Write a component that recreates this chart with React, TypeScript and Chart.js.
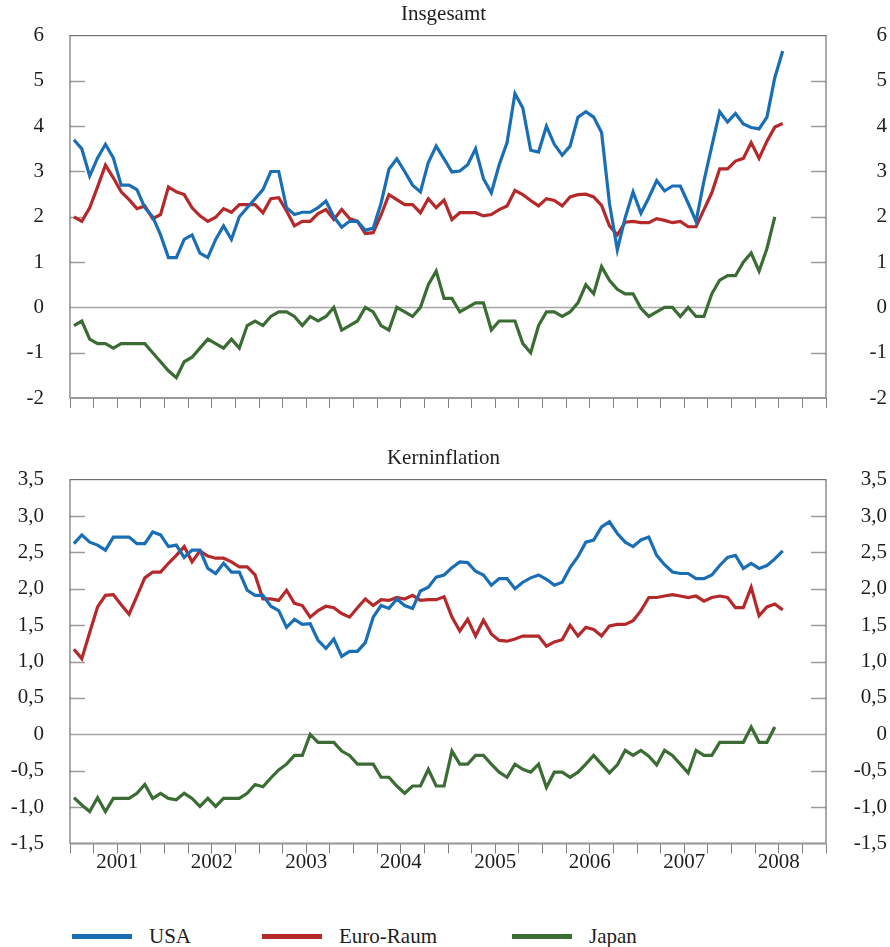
import React, { useEffect, useRef } from 'react';
import { Chart, registerables } from 'chart.js';

Chart.register(...registerables);

const FONT = '"Liberation Serif", "Times New Roman", serif';
const FONT_SIZE = 21;

const years = ['2001', '2002', '2003', '2004', '2005', '2006', '2007', '2008'];
const seriesNames = ['USA', 'Euro-Raum', 'Japan'];
const seriesColors = ['#1a6eb5', '#b5292a', '#3a6c33'];

const topTitle = 'Insgesamt';
const bottomTitle = 'Kerninflation';
const topTickValues = [-2, -1, 0, 1, 2, 3, 4, 5, 6];
const bottomTickValues = [-1.5, -1, -0.5, 0, 0.5, 1, 1.5, 2, 2.5, 3, 3.5];

// Monthly, Jan 2001 onwards
const usTotal = [
  3.7, 3.5, 2.9, 3.3, 3.6, 3.3, 2.7, 2.7, 2.6, 2.2, 2.0, 1.6,
  1.1, 1.1, 1.5, 1.6, 1.2, 1.1, 1.5, 1.8, 1.5, 2.0, 2.2, 2.4,
  2.6, 3.0, 3.0, 2.2, 2.05, 2.1, 2.1, 2.2, 2.35, 2.0, 1.77, 1.9,
  1.9, 1.7, 1.75, 2.3, 3.05, 3.28, 3.0, 2.7, 2.55, 3.2, 3.56, 3.28,
  2.99, 3.01, 3.15, 3.5, 2.84, 2.53, 3.15, 3.64, 4.72, 4.4, 3.47, 3.43,
  4.0, 3.6, 3.36, 3.56, 4.2, 4.32, 4.2, 3.86, 2.3, 1.27, 1.98, 2.55,
  2.08, 2.42, 2.8, 2.57, 2.68, 2.68, 2.3, 1.9, 2.79, 3.56, 4.32, 4.09,
  4.28, 4.05, 3.97, 3.94, 4.2, 5.07, 5.66,
];
const euroTotal = [
  2.0, 1.9, 2.2, 2.66, 3.14, 2.86, 2.55, 2.38, 2.18, 2.24, 1.96, 2.05,
  2.66, 2.55, 2.49, 2.2, 2.02, 1.9, 1.99, 2.18, 2.1, 2.27, 2.27, 2.27,
  2.09, 2.4, 2.42, 2.13, 1.8, 1.9, 1.9, 2.07, 2.16, 1.94, 2.16, 1.96,
  1.9, 1.63, 1.65, 2.04, 2.49, 2.38, 2.27, 2.27, 2.09, 2.4, 2.2, 2.37,
  1.94, 2.09, 2.09, 2.09, 2.02, 2.05, 2.16, 2.24, 2.58, 2.49, 2.36, 2.24,
  2.4, 2.36, 2.24, 2.44, 2.49, 2.5, 2.44, 2.25, 1.8, 1.6, 1.88, 1.9,
  1.87, 1.87, 1.96, 1.92, 1.87, 1.9, 1.78, 1.78, 2.16, 2.53, 3.06, 3.06,
  3.23, 3.29, 3.64, 3.29, 3.67, 3.98, 4.06,
];
const japanTotal = [
  -0.4, -0.3, -0.7, -0.8, -0.8, -0.9, -0.8, -0.8, -0.8, -0.8, -1.0, -1.2,
  -1.4, -1.55, -1.2, -1.1, -0.9, -0.7, -0.8, -0.9, -0.7, -0.9, -0.4, -0.3,
  -0.4, -0.2, -0.1, -0.1, -0.2, -0.4, -0.2, -0.3, -0.2, 0.0, -0.5, -0.4,
  -0.3, 0.0, -0.1, -0.4, -0.5, 0.0, -0.1, -0.2, 0.0, 0.5, 0.8, 0.2,
  0.2, -0.1, 0.0, 0.1, 0.1, -0.5, -0.3, -0.3, -0.3, -0.8, -1.0, -0.4,
  -0.1, -0.1, -0.2, -0.1, 0.1, 0.5, 0.3, 0.9, 0.6, 0.4, 0.3, 0.3,
  -0.02, -0.2, -0.1, 0.0, 0.0, -0.2, 0.0, -0.2, -0.2, 0.3, 0.6, 0.7,
  0.7, 1.0, 1.2, 0.8, 1.3, 2.0,
];

const usCore = [
  2.62, 2.74, 2.64, 2.6, 2.53, 2.71, 2.71, 2.71, 2.62, 2.62, 2.78, 2.74,
  2.58, 2.6, 2.43, 2.53, 2.53, 2.28, 2.21, 2.35, 2.23, 2.23, 1.98, 1.91,
  1.91, 1.76, 1.7, 1.47, 1.58, 1.51, 1.52, 1.29, 1.18, 1.31, 1.07, 1.14,
  1.14, 1.26, 1.61, 1.77, 1.73, 1.86, 1.77, 1.73, 1.97, 2.02, 2.16, 2.19,
  2.29, 2.37, 2.36, 2.24, 2.19, 2.05, 2.14, 2.14, 2.0, 2.09, 2.15, 2.19,
  2.13, 2.05, 2.09, 2.29, 2.44, 2.64, 2.67, 2.85, 2.92, 2.76, 2.64, 2.58,
  2.67, 2.71, 2.46, 2.33, 2.23, 2.21, 2.21, 2.14, 2.14, 2.19, 2.32, 2.43,
  2.46, 2.28, 2.35, 2.28, 2.32, 2.41, 2.52,
];
const euroCore = [
  1.17, 1.04, 1.4, 1.75, 1.91, 1.92, 1.78, 1.65, 1.9, 2.15, 2.23, 2.23,
  2.35, 2.46, 2.58, 2.37, 2.52, 2.45, 2.42, 2.42, 2.37, 2.3, 2.3, 2.19,
  1.86, 1.86, 1.84, 1.98, 1.8, 1.77, 1.61, 1.7, 1.76, 1.74, 1.66, 1.61,
  1.74, 1.86, 1.77, 1.85, 1.84, 1.88, 1.86, 1.91, 1.84, 1.85, 1.85, 1.89,
  1.61, 1.42, 1.58, 1.35, 1.57, 1.38, 1.29, 1.28, 1.31, 1.35, 1.35, 1.35,
  1.21, 1.27, 1.3, 1.5, 1.35, 1.47, 1.44, 1.35, 1.49, 1.51, 1.51, 1.56,
  1.7, 1.88, 1.88, 1.9, 1.92, 1.9, 1.88, 1.9, 1.83, 1.88, 1.9, 1.88,
  1.74, 1.74, 2.02, 1.63, 1.75, 1.79, 1.71,
];
const japanCore = [
  -0.87, -0.97, -1.06, -0.87, -1.06, -0.88, -0.88, -0.88, -0.81, -0.69, -0.88, -0.81,
  -0.88, -0.9, -0.81, -0.88, -0.99, -0.88, -0.99, -0.88, -0.88, -0.88, -0.81, -0.69,
  -0.72, -0.6, -0.49, -0.41, -0.29, -0.29, 0.0, -0.11, -0.11, -0.11, -0.23, -0.29,
  -0.41, -0.41, -0.41, -0.59, -0.59, -0.71, -0.81, -0.71, -0.71, -0.48, -0.71, -0.71,
  -0.23, -0.41, -0.41, -0.29, -0.29, -0.41, -0.52, -0.59, -0.41, -0.48, -0.52, -0.41,
  -0.73, -0.52, -0.52, -0.59, -0.52, -0.41, -0.29, -0.41, -0.53, -0.42, -0.22, -0.29,
  -0.22, -0.3, -0.42, -0.22, -0.29, -0.41, -0.53, -0.22, -0.29, -0.29, -0.11, -0.11,
  -0.11, -0.11, 0.1, -0.11, -0.11, 0.1,
];

const MONTHS_ON_AXIS = years.length * 12;

const framePlugin = {
  id: 'frame',
  beforeDatasetsDraw(chart: any) {
    const { ctx, chartArea: a, scales } = chart;
    const y = scales.y;
    ctx.save();
    ctx.strokeStyle = '#9c9c9c';
    ctx.lineWidth = 1.5;
    y.ticks.forEach((t: any) => {
      if (t.value === y.min || t.value === y.max || t.value === 0) return;
      const py = Math.round(y.getPixelForValue(t.value)) + 0.5;
      ctx.beginPath();
      ctx.moveTo(a.left, py);
      ctx.lineTo(a.left + 15, py);
      ctx.moveTo(a.right - 15, py);
      ctx.lineTo(a.right, py);
      ctx.stroke();
    });
    const z = Math.round(y.getPixelForValue(0)) + 0.5;
    ctx.strokeStyle = '#a6a6a6';
    ctx.lineWidth = 1.6;
    ctx.beginPath();
    ctx.moveTo(a.left, z);
    ctx.lineTo(a.right, z);
    ctx.stroke();
    ctx.strokeStyle = '#707070';
    ctx.lineWidth = 1.2;
    ctx.strokeRect(a.left, a.top, a.right - a.left, a.bottom - a.top);
    ctx.strokeStyle = '#999999';
    ctx.lineWidth = 1.8;
    ctx.beginPath();
    ctx.moveTo(a.left, a.bottom);
    ctx.lineTo(a.right, a.bottom);
    ctx.stroke();
    ctx.restore();
  },
};

function fmtBottom(v: number) {
  if (v === 0) return '0';
  return v.toFixed(1).replace('.', ',');
}

type PanelProps = {
  title: string;
  series: number[][];
  tickValues: number[];
  showYears: boolean;
  height: number;
  titleTop: number;
  padBottom: number;
  fmt: (v: number) => string;
};

function Panel({ title, series, tickValues, showYears, height, titleTop, padBottom, fmt }: PanelProps) {
  const ref = useRef<HTMLCanvasElement>(null);
  useEffect(() => {
    if (!ref.current) return;
    const yMin = tickValues[0];
    const yMax = tickValues[tickValues.length - 1];
    const yTicks = (s: any) => {
      s.ticks = tickValues.map((v) => ({ value: v }));
    };
    const tickFont = { family: FONT, size: FONT_SIZE };
    const chart = new Chart(ref.current, {
      type: 'line',
      data: {
        datasets: series.map((arr, k) => ({
          label: seriesNames[k],
          data: arr.map((v, i) => ({ x: i + 0.5, y: v })),
          borderColor: seriesColors[k],
          backgroundColor: seriesColors[k],
          borderWidth: 3.2,
          pointRadius: 0,
          fill: false,
          tension: 0,
          yAxisID: 'y',
        })),
      },
      options: {
        responsive: false,
        animation: false,
        devicePixelRatio: 1,
        layout: { padding: { top: 0, right: 3, bottom: padBottom, left: 0 } },
        plugins: {
          legend: { display: false },
          tooltip: { enabled: false },
          title: {
            display: true,
            text: title,
            color: '#1e1e1e',
            font: { family: FONT, size: FONT_SIZE, weight: 'normal' as any },
            padding: { top: titleTop, bottom: 9 },
          },
        },
        scales: {
          x: {
            type: 'linear',
            min: 0,
            max: MONTHS_ON_AXIS,
            afterBuildTicks: (s: any) => {
              const t = [];
              for (let m = 0; m <= MONTHS_ON_AXIS; m += 3) t.push({ value: m });
              s.ticks = t;
            },
            ticks: {
              display: showYears,
              autoSkip: false,
              maxRotation: 0,
              minRotation: 0,
              padding: -3.8,
              color: '#1e1e1e',
              font: tickFont,
              callback: (v: any) => {
                const idx = (Number(v) - 6) / 12;
                return Number.isInteger(idx) && years[idx] ? years[idx] : '';
              },
            },
            grid: { drawOnChartArea: false, drawTicks: true, tickLength: 10, color: '#808080', lineWidth: 1 },
            border: { display: false },
          },
          y: {
            position: 'left',
            min: yMin,
            max: yMax,
            afterBuildTicks: yTicks,
            afterFit: (s: any) => {
              s.width = 70;
            },
            ticks: { padding: 0, color: '#1e1e1e', font: tickFont, callback: (v: any) => fmt(Number(v)) },
            grid: { display: false, drawTicks: true, tickLength: 26 },
            border: { display: false },
          },
          y2: {
            position: 'right',
            min: yMin,
            max: yMax,
            afterBuildTicks: yTicks,
            afterFit: (s: any) => {
              s.width = 61;
            },
            ticks: { crossAlign: 'far', padding: 0, color: '#1e1e1e', font: tickFont, callback: (v: any) => fmt(Number(v)) },
            grid: { display: false, drawTicks: true, tickLength: 10 },
            border: { display: false },
          },
        },
      } as any,
      plugins: [framePlugin],
    });
    return () => chart.destroy();
  }, []);
  return <canvas ref={ref} width={890} height={height} style={{ display: 'block' }} />;
}

export default function App() {
  const legendLeft = [72, 262, 512];
  return (
    <div style={{ position: 'absolute', left: 0, top: 0, width: 890, height: 947, background: '#fff' }}>
      <div style={{ position: 'absolute', left: 0, top: 0 }}>
        <Panel
          title={topTitle}
          series={[usTotal, euroTotal, japanTotal]}
          tickValues={topTickValues}
          showYears={false}
          height={430}
          titleTop={1.4}
          padBottom={22}
          fmt={(v) => String(v)}
        />
      </div>
      <div style={{ position: 'absolute', left: 0, top: 440 }}>
        <Panel
          title={bottomTitle}
          series={[usCore, euroCore, japanCore]}
          tickValues={bottomTickValues}
          showYears={true}
          height={440}
          titleTop={5.4}
          padBottom={8.9}
          fmt={fmtBottom}
        />
      </div>
      {seriesNames.map((name, k) => (
        <div
          key={name}
          style={{
            position: 'absolute',
            left: legendLeft[k],
            top: 923,
            height: 26,
            display: 'flex',
            alignItems: 'center',
            fontFamily: FONT,
            fontSize: FONT_SIZE,
            color: '#1e1e1e',
          }}
        >
          <span style={{ display: 'inline-block', width: 60, height: 5, background: seriesColors[k], marginRight: 17 }} />
          <span>{name}</span>
        </div>
      ))}
    </div>
  );
}
